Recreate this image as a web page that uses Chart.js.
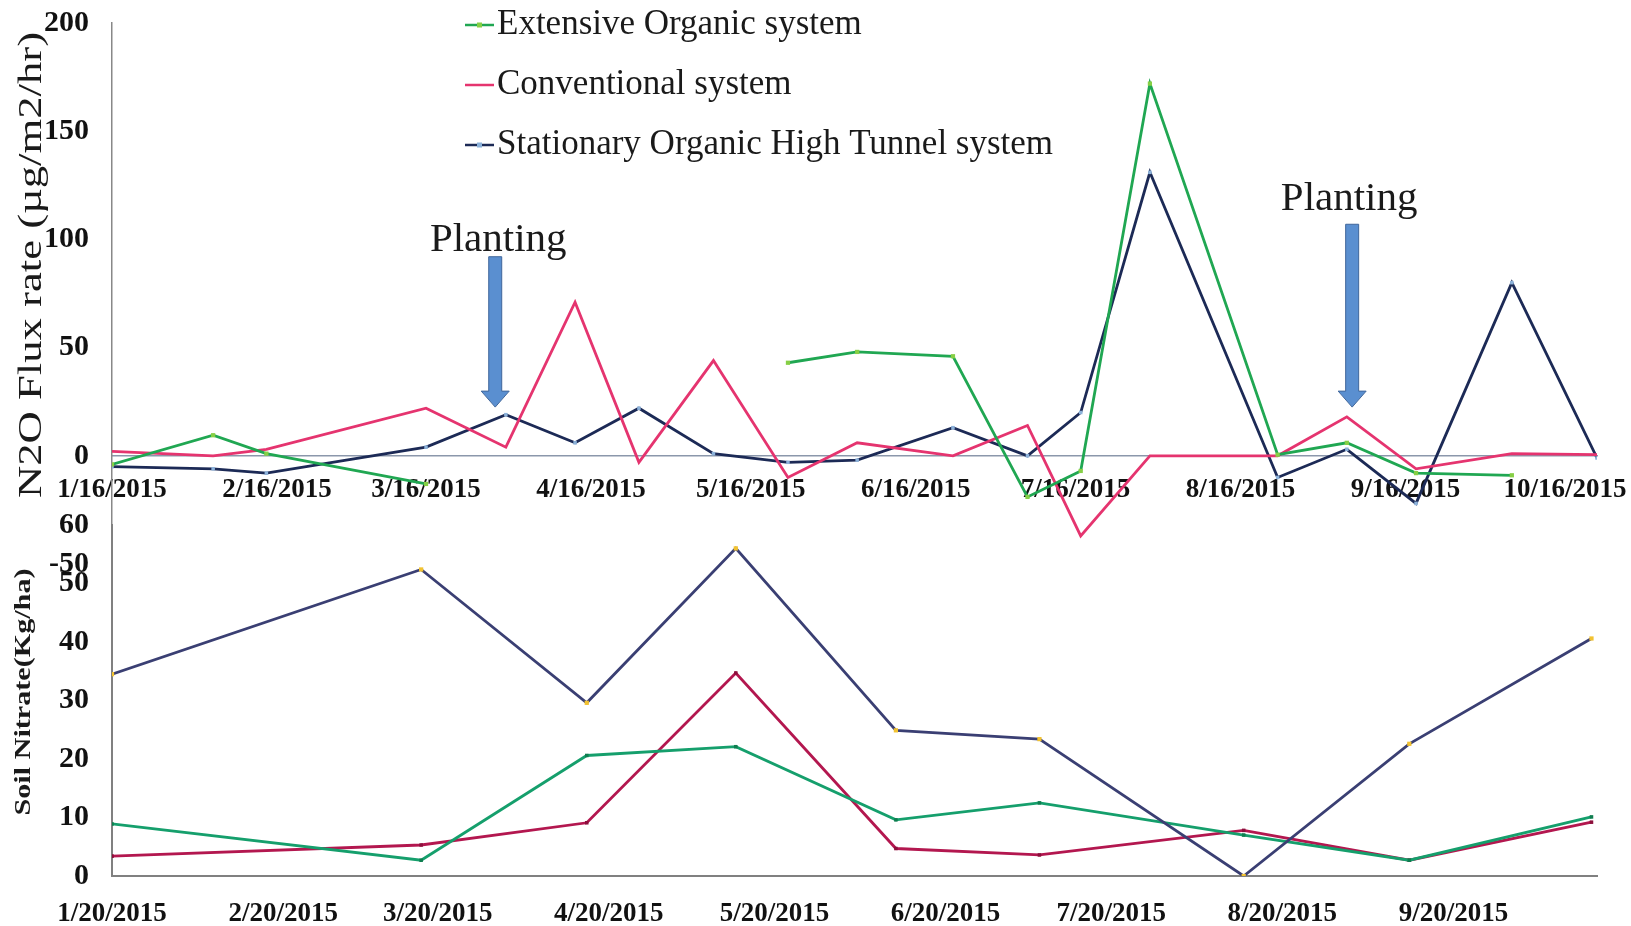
<!DOCTYPE html>
<html>
<head>
<meta charset="utf-8">
<title>N2O flux and soil nitrate</title>
<script src="https://cdn.jsdelivr.net/npm/chart.js@4.4.1/dist/chart.umd.min.js"></script>
<style>
  html, body { margin: 0; padding: 0; background: #fff; }
  #wrap { position: relative; width: 1631px; height: 926px; }
  #wrap canvas { position: absolute; left: 0; top: 0; }
</style>
</head>
<body>
<div id="wrap">
  <canvas id="flux" width="1631" height="600"></canvas>
  <canvas id="nitrate" width="1631" height="926"></canvas>
</div>
<script>
// top panel: N2O flux
const fluxDates = ['1/16/2015','2/4/2015','2/14/2015','3/16/2015','3/31/2015','4/13/2015','4/25/2015','5/9/2015','5/23/2015','6/5/2015',
                   '6/23/2015','7/7/2015','7/17/2015','7/30/2015','8/23/2015','9/5/2015','9/18/2015','10/6/2015','10/22/2015'];
const fluxExtensive    = [-4, 9.5, 1, -13, null, null, null, null, 43, 48, 46, -19, -7, 172, 0.5, 6, -8, -9, null];
const fluxConventional = [2, 0, 3, 22, 4, 71, -3, 44, -10, 6, 0, 14, -37, 0, 0, 18, -6, 1, 0.5];
const fluxHighTunnel   = [-5, -6, -8, 4, 19, 6, 22, 1, -3, -2, 13, 0, 20, 131, -10, 3, -22, 80, -1];
const fluxTicks = ['1/16/2015','2/16/2015','3/16/2015','4/16/2015','5/16/2015','6/16/2015','7/16/2015','8/16/2015','9/16/2015','10/16/2015'];
const plantingDates = ['3/29/2015', '9/6/2015'];

// bottom panel: soil nitrate
const nitrateDates = ['1/20/2015','3/17/2015','4/16/2015','5/13/2015','6/11/2015','7/7/2015','8/13/2015','9/12/2015','10/15/2015'];
const nitrateHighTunnel   = [34.5, 52.4, 29.6, 56, 24.9, 23.4, 0, 22.6, 40.6];
const nitrateExtensive    = [8.9, 2.7, 20.6, 22.1, 9.6, 12.5, 7, 2.7, 10.1];
const nitrateConventional = [3.4, 5.3, 9.1, 34.7, 4.7, 3.6, 7.8, 2.7, 9.2];
const nitrateTicks = ['1/20/2015','2/20/2015','3/20/2015','4/20/2015','5/20/2015','6/20/2015','7/20/2015','8/20/2015','9/20/2015'];

const SERIF = "'Liberation Serif', 'Times New Roman', serif";

function doy(s) {
  var p = s.split('/').map(Number);
  return Math.round((Date.UTC(p[2], p[0] - 1, p[1]) - Date.UTC(p[2], 0, 1)) / 86400000);
}
function fmt(v) {
  var d = new Date(Date.UTC(2015, 0, 1) + v * 86400000);
  return (d.getUTCMonth() + 1) + '/' + d.getUTCDate() + '/' + d.getUTCFullYear();
}
function pts(dates, vals) {
  return dates.map(function(d, i) { return {x: doy(d), y: vals[i]}; });
}
// keep label overhang from pushing the plot area around
function noPad(s) { s.paddingLeft = 0; s.paddingRight = 0; s.paddingTop = 0; s.paddingBottom = 0; }

// vertical axis title, stretched along its length like the original
function sideTitle(ctx, text, font, cx, cy, len) {
  ctx.save();
  ctx.font = font;
  var w = ctx.measureText(text).width;
  ctx.translate(cx, cy);
  ctx.rotate(-Math.PI / 2);
  ctx.scale(len / w, 1);
  ctx.fillStyle = '#1a1a1a';
  ctx.textAlign = 'center';
  ctx.textBaseline = 'middle';
  ctx.fillText(text, 0, 0);
  ctx.restore();
}

function arrow(ctx, x, yTop, yTip) {
  var sw = 6.5, hw = 14, hl = 16;
  ctx.beginPath();
  ctx.moveTo(x - sw, yTop);
  ctx.lineTo(x + sw, yTop);
  ctx.lineTo(x + sw, yTip - hl);
  ctx.lineTo(x + hw, yTip - hl);
  ctx.lineTo(x, yTip);
  ctx.lineTo(x - hw, yTip - hl);
  ctx.lineTo(x - sw, yTip - hl);
  ctx.closePath();
  ctx.fillStyle = '#5a8fd0';
  ctx.fill();
  ctx.strokeStyle = '#41679b';
  ctx.lineWidth = 1;
  ctx.stroke();
}

const fluxDecor = {
  id: 'fluxDecor',
  afterDraw: function(chart) {
    var ctx = chart.ctx, xs = chart.scales.x, ys = chart.scales.y;
    sideTitle(ctx, 'N2O Flux rate (\u00b5g/m2/hr)', '34px ' + SERIF, 32, 265, 466);

    // legend, stacked
    var rowY = [25, 85, 145];
    chart.data.datasets.forEach(function(ds, i) {
      var y = rowY[i];
      ctx.save();
      ctx.strokeStyle = ds.borderColor;
      ctx.lineWidth = 2.5;
      ctx.beginPath(); ctx.moveTo(465, y); ctx.lineTo(494, y); ctx.stroke();
      if (ds.pointRadius > 0) {
        ctx.fillStyle = ds.pointBackgroundColor;
        ctx.fillRect(477, y - 2.5, 5, 5);
      }
      ctx.fillStyle = '#1a1a1a';
      ctx.font = '35px ' + SERIF;
      ctx.textBaseline = 'middle';
      ctx.fillText(ds.label, 497, y);
      ctx.restore();
    });

    // planting arrows
    var marks = [{label: 94.5, top: 92, tip: 22.5, dx: 3}, {label: 113.5, top: 107, tip: 22.5, dx: -3}];
    plantingDates.forEach(function(d, i) {
      var x = xs.getPixelForValue(doy(d));
      arrow(ctx, x, ys.getPixelForValue(marks[i].top), ys.getPixelForValue(marks[i].tip));
      ctx.save();
      ctx.fillStyle = '#1a1a1a';
      ctx.font = '41px ' + SERIF;
      ctx.textAlign = 'center';
      ctx.textBaseline = 'alphabetic';
      ctx.fillText('Planting', x + marks[i].dx, ys.getPixelForValue(marks[i].label));
      ctx.restore();
    });
  }
};

const nitrateDecor = {
  id: 'nitrateDecor',
  afterDraw: function(chart) {
    sideTitle(chart.ctx, 'Soil Nitrate(Kg/ha)', 'bold 24px ' + SERIF, 24, 692, 247);
  }
};

const tickFont = {family: SERIF, size: 27, weight: 'bold'};
const yTickFont = {family: SERIF, size: 30, weight: 'bold'};

new Chart(document.getElementById('flux'), {
  type: 'line',
  data: {
    datasets: [
      {label: 'Extensive Organic system', data: pts(fluxDates, fluxExtensive),
       borderColor: '#20a752', pointBackgroundColor: '#86cf45', pointBorderWidth: 0,
       pointStyle: 'rect', pointRadius: 3, borderWidth: 2.8, spanGaps: false},
      {label: 'Conventional system', data: pts(fluxDates, fluxConventional),
       borderColor: '#e5346f', pointRadius: 0, borderWidth: 2.8},
      {label: 'Stationary Organic High Tunnel system', data: pts(fluxDates, fluxHighTunnel),
       borderColor: '#1c2a56', pointBackgroundColor: '#8cb2da', pointBorderWidth: 0,
       pointStyle: 'rect', pointRadius: 2.5, borderWidth: 2.8}
    ]
  },
  options: {
    responsive: false,
    animation: false,
    layout: {padding: {left: 0, right: 34, top: 23, bottom: 36}},
    elements: {line: {tension: 0}},
    plugins: {legend: {display: false}, tooltip: {enabled: false}},
    scales: {
      x: {
        type: 'linear', min: doy('1/16/2015'), max: doy('10/22/2015'),
        position: {y: 0},
        afterBuildTicks: function(s) { s.ticks = fluxTicks.map(function(t) { return {value: doy(t)}; }); },
        afterFit: noPad,
        ticks: {callback: fmt, font: tickFont, color: '#111', maxRotation: 0, autoSkip: false, padding: 10},
        grid: {display: false},
        border: {color: '#8b97ab', width: 1.5}
      },
      y: {
        min: -50, max: 200,
        afterFit: function(s) { s.width = 112; noPad(s); },
        ticks: {stepSize: 50, font: yTickFont, color: '#111', padding: 15},
        grid: {display: false},
        border: {color: '#888', width: 1.5}
      }
    }
  },
  plugins: [fluxDecor]
});

new Chart(document.getElementById('nitrate'), {
  type: 'line',
  data: {
    datasets: [
      {label: 'Stationary Organic High Tunnel system', data: pts(nitrateDates, nitrateHighTunnel),
       borderColor: '#3a3f73', pointBackgroundColor: '#f2c230', pointBorderWidth: 0,
       pointStyle: 'rect', pointRadius: 3, borderWidth: 2.8},
      {label: 'Extensive Organic system', data: pts(nitrateDates, nitrateExtensive),
       borderColor: '#159f6c', pointBackgroundColor: '#0f7d4f', pointBorderWidth: 0,
       pointStyle: 'rect', pointRadius: 2.5, borderWidth: 2.8},
      {label: 'Conventional system', data: pts(nitrateDates, nitrateConventional),
       borderColor: '#b3174f', pointBackgroundColor: '#8c0f3c', pointBorderWidth: 0,
       pointStyle: 'rect', pointRadius: 2.5, borderWidth: 2.8}
    ]
  },
  options: {
    responsive: false,
    animation: false,
    layout: {padding: {left: 0, right: 34, top: 525, bottom: 0}},
    elements: {line: {tension: 0}},
    plugins: {legend: {display: false}, tooltip: {enabled: false}},
    scales: {
      x: {
        type: 'linear', min: doy('1/20/2015'), max: doy('10/16/2015'),
        afterBuildTicks: function(s) { s.ticks = nitrateTicks.map(function(t) { return {value: doy(t)}; }); },
        afterFit: function(s) { s.height = 50; noPad(s); },
        ticks: {callback: fmt, font: tickFont, color: '#111', maxRotation: 0, autoSkip: false, padding: 14},
        grid: {display: false},
        border: {color: '#808080', width: 2}
      },
      y: {
        min: 0, max: 60,
        afterFit: function(s) { s.width = 112; noPad(s); },
        ticks: {stepSize: 10, font: yTickFont, color: '#111', padding: 15},
        grid: {display: false},
        border: {color: '#808080', width: 2}
      }
    }
  },
  plugins: [nitrateDecor]
});
</script>
</body>
</html>
